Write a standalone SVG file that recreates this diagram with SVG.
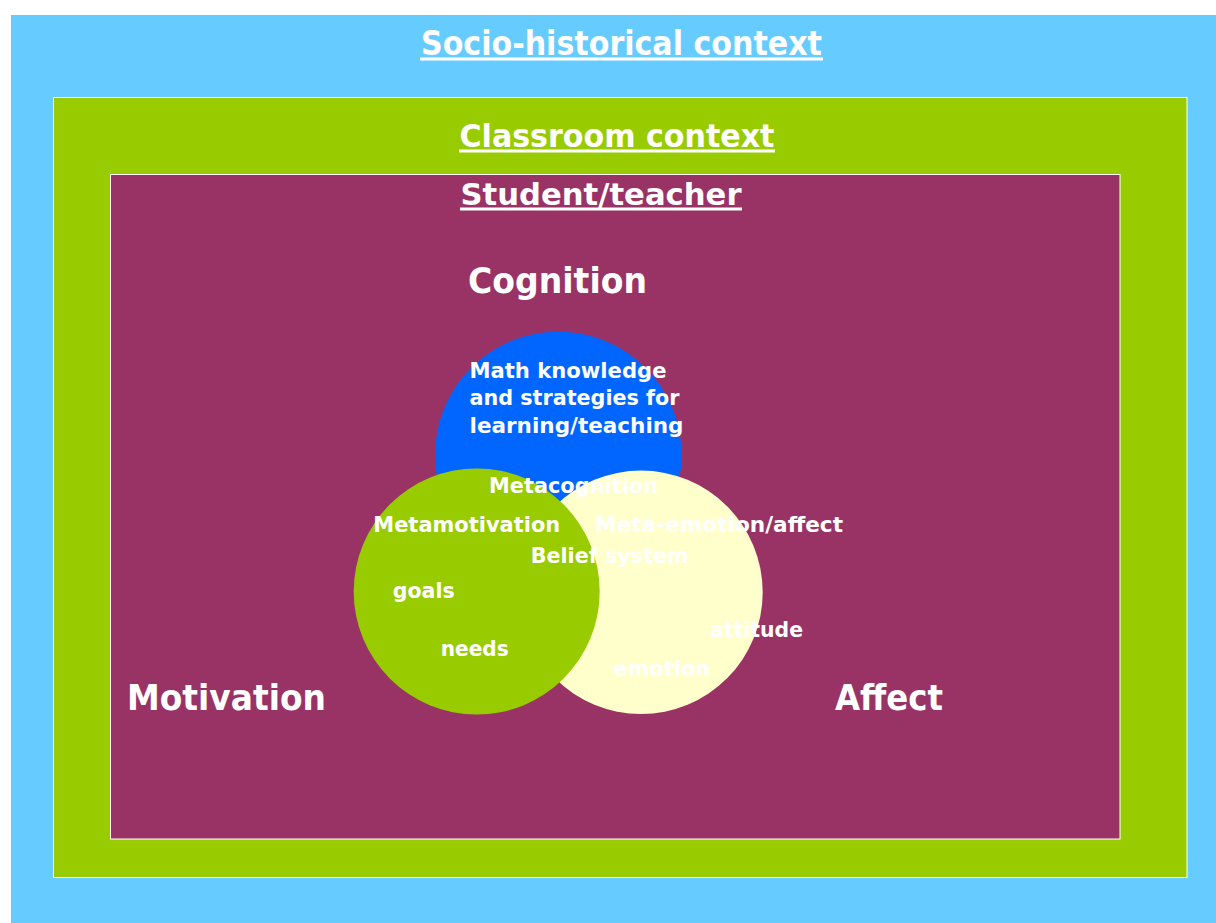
<svg xmlns="http://www.w3.org/2000/svg" width="1216" height="923" viewBox="0 0 1216 923">
<style>
.t{font-family:Tahoma,"DejaVu Sans","Noto Sans",sans-serif;font-weight:bold;fill:#FFFFFF}
.ul{fill:#FFFFFF}
</style>
<rect x="0" y="0" width="1216" height="923" fill="#FFFFFF"/>
<g id="socio">
<rect x="11" y="15" width="1210" height="915" fill="#66CCFF"/>
<text class="t" x="421" y="54.5" font-size="33" textLength="401" lengthAdjust="spacingAndGlyphs">Socio-historical context</text>
<rect class="ul" x="420" y="57.5" width="403" height="3"/>
</g>
<g id="classroom">
<rect x="53.5" y="97.5" width="1133.5" height="780" fill="#99CC00" stroke="#FFFFFF" stroke-width="1"/>
<text class="t" x="459.5" y="147" font-size="32" textLength="315" lengthAdjust="spacingAndGlyphs">Classroom context</text>
<rect class="ul" x="459" y="149.5" width="316" height="3"/>
</g>
<g id="student">
<rect x="110.5" y="174.5" width="1009.5" height="664.5" fill="#993366" stroke="#FFFFFF" stroke-width="1"/>
<text class="t" x="460.5" y="204.5" font-size="30" textLength="281" lengthAdjust="spacingAndGlyphs">Student/teacher</text>
<rect class="ul" x="460" y="207.5" width="282" height="3"/>
</g>
<g id="labels">
<text class="t" x="468" y="293" font-size="36" textLength="179" lengthAdjust="spacingAndGlyphs">Cognition</text>
<text class="t" x="127" y="709.5" font-size="36" textLength="199" lengthAdjust="spacingAndGlyphs">Motivation</text>
<text class="t" x="835" y="709.5" font-size="35" textLength="108" lengthAdjust="spacingAndGlyphs">Affect</text>
</g>
<g id="cognition-circle">
<circle cx="558.3" cy="455" r="123.3" fill="#0066FF"/>
</g>
<g id="affect-circle">
<circle cx="641" cy="592.3" r="121.7" fill="#FFFFCC"/>
</g>
<g id="motivation-circle">
<circle cx="476.7" cy="591.5" r="123" fill="#99CC00"/>
</g>
<g id="circle-texts">
<text class="t" x="469.5" y="377.5" font-size="21.5" textLength="197" lengthAdjust="spacingAndGlyphs">Math knowledge</text>
<text class="t" x="469.5" y="405" font-size="21.5" textLength="210" lengthAdjust="spacingAndGlyphs">and strategies for</text>
<text class="t" x="469.5" y="432.7" font-size="21.5" textLength="214" lengthAdjust="spacingAndGlyphs">learning/teaching</text>
<text class="t" x="489" y="492.7" font-size="21.5" textLength="169" lengthAdjust="spacingAndGlyphs">Metacognition</text>
<text class="t" x="373.3" y="531.7" font-size="21.5" textLength="187" lengthAdjust="spacingAndGlyphs">Metamotivation</text>
<text class="t" x="595" y="531.7" font-size="21.5" textLength="248" lengthAdjust="spacingAndGlyphs">Meta-emotion/affect</text>
<text class="t" x="530.7" y="563.3" font-size="21.5" textLength="158" lengthAdjust="spacingAndGlyphs">Belief system</text>
<text class="t" x="392.7" y="597.5" font-size="21.5" textLength="62" lengthAdjust="spacingAndGlyphs">goals</text>
<text class="t" x="440.7" y="656" font-size="21.5" textLength="68" lengthAdjust="spacingAndGlyphs">needs</text>
<text class="t" x="710" y="636.5" font-size="21.5" textLength="93" lengthAdjust="spacingAndGlyphs">attitude</text>
<text class="t" x="613.3" y="675.5" font-size="21.5" textLength="97" lengthAdjust="spacingAndGlyphs">emotion</text>
</g>
</svg>
